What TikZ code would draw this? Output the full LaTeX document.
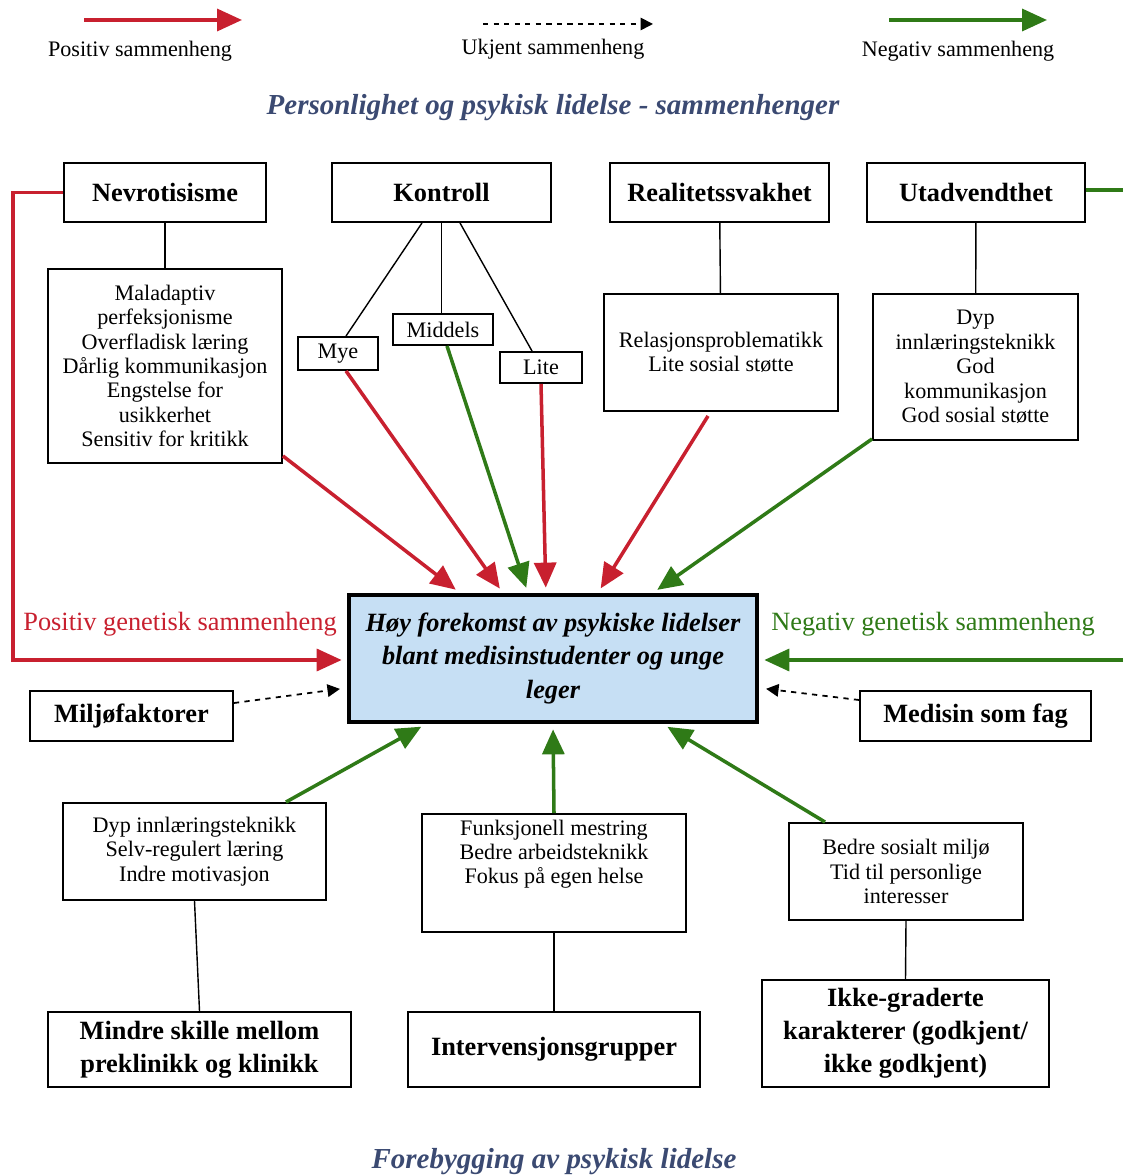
\documentclass[tikz,border=0pt]{standalone}
\usepackage{fontspec}
\setmainfont{Liberation Serif}
\usetikzlibrary{arrows.meta}

\definecolor{posred}{HTML}{C8202F}
\definecolor{neggreen}{HTML}{2F7A17}
\definecolor{mainfill}{HTML}{C6DFF4}
\definecolor{titleblue}{HTML}{3B4A72}

\begin{document}
\begin{tikzpicture}[x=0.02cm, y=-0.02cm,
    box/.style={draw, line width=1.1pt, inner sep=2pt, align=center},
    headbox/.style={box, minimum height=1.18cm, font=\fontsize{15}{18.8}\selectfont\bfseries},
    listbox/.style={box, font=\fontsize{12.6}{13.9}\selectfont},
    bigbox/.style={box, font=\fontsize{15}{18.8}\selectfont\bfseries},
    link/.style={line width=0.8pt},
    posarrow/.style={posred, line width=2pt, -{Triangle[length=0.5cm, width=0.44cm]}},
    negarrow/.style={neggreen, line width=2pt, -{Triangle[length=0.5cm, width=0.44cm]}},
    unkarrow/.style={dashed, line width=1pt, -{Triangle[length=0.25cm, width=0.25cm]}},
    smalltext/.style={font=\fontsize{12.6}{13.9}\selectfont}]
    \useasboundingbox (0,0) rectangle (1123,1175);

    % Legend
    \coordinate (posA) at (84,20);   \coordinate (posB) at (242,20);
    \coordinate (unkA) at (483,24);  \coordinate (unkB) at (653,24);
    \coordinate (negA) at (889,20);  \coordinate (negB) at (1047,20);
    \draw[posarrow] (posA) -- (posB);
    \draw[unkarrow] (unkA) -- (unkB);
    \draw[negarrow] (negA) -- (negB);
    \node[smalltext] (posleg) at (140,51) {Positiv sammenheng};
    \node[smalltext] (unkleg) at (553,49) {Ukjent sammenheng};
    \node[smalltext] (negleg) at (958,51) {Negativ sammenheng};

    % Titles
    \node[titleblue, font=\fontsize{16.5}{20}\selectfont\bfseries\itshape] (toptitle) at (553,108)
        {Personlighet og psykisk lidelse - sammenhenger};
    \node[titleblue, font=\fontsize{16.5}{20}\selectfont\bfseries\itshape] (bottitle) at (554,1162)
        {Forebygging av psykisk lidelse};

    % Personality traits
    \node[headbox, minimum width=4.04cm] (nev) at (165,192.5) {Nevrotisisme};
    \node[headbox, minimum width=4.38cm] (kon) at (441.5,192.5) {Kontroll};
    \node[headbox, minimum width=4.38cm] (real) at (719.5,192.5) {Realitetssvakhet};
    \node[headbox, minimum width=4.36cm] (utad) at (976,192.5) {Utadvendthet};

    % Trait details
    \node[listbox, minimum width=4.68cm, minimum height=3.88cm] (nevlist) at (165,366)
        {Maladaptiv\\perfeksjonisme\\Overfladisk læring\\Dårlig kommunikasjon\\Engstelse for\\usikkerhet\\Sensitiv for kritikk};
    \node[listbox, minimum width=1.6cm, minimum height=0.66cm] (mye) at (338,353.5) {Mye};
    \node[listbox, minimum width=2.0cm, minimum height=0.62cm] (middels) at (443,329.5) {Middels};
    \node[listbox, minimum width=1.64cm, minimum height=0.62cm] (lite) at (541,367.5) {Lite};
    \node[listbox, minimum width=4.68cm, minimum height=2.34cm] (rel) at (721,352.5)
        {Relasjonsproblematikk\\Lite sosial støtte};
    \node[listbox, minimum width=4.1cm, minimum height=2.92cm] (dyp) at (975.5,367)
        {Dyp\\innlæringsteknikk\\God\\kommunikasjon\\God sosial støtte};

    \draw[link] (nev) -- (nevlist);
    \draw[link] ([xshift=-0.39cm]kon.south) -- ([xshift=0.16cm]mye.north);
    \draw[link] (kon.south) -- (kon.south |- middels.north);
    \draw[link] ([xshift=0.37cm]kon.south) -- ([xshift=-0.18cm]lite.north);
    \draw[link] (real) -- (rel);
    \draw[link] (utad) -- (dyp);

    % Main box
    \node[draw, line width=2.4pt, fill=mainfill, align=center, minimum width=8.16cm, minimum height=2.54cm,
          font=\fontsize{15}{18.8}\selectfont\bfseries\itshape] (cen) at (553,658.5)
        {Høy forekomst av psykiske lidelser\\blant medisinstudenter og unge\\leger};

    % Arrows from above
    \draw[posarrow, shorten >=3pt] ([yshift=0.16cm]nevlist.south east) -- ([xshift=2.26cm]cen.north west);
    \draw[posarrow, shorten >=3pt] ([xshift=0.16cm]mye.south) -- ([xshift=3.12cm]cen.north west);
    \draw[negarrow, shorten >=3pt] ([xshift=0.08cm]middels.south) -- ([xshift=3.62cm]cen.north west);
    \draw[posarrow, shorten >=3pt] (lite.south) -- ([xshift=3.98cm]cen.north west);
    \draw[posarrow, shorten >=3pt] ([xshift=-0.26cm, yshift=-0.08cm]rel.south) -- ([xshift=5.02cm]cen.north west);
    \draw[negarrow, shorten >=3pt] ([yshift=0.04cm]dyp.south west) -- ([xshift=6.12cm]cen.north west);

    % Genetic links
    \coordinate (redcorner) at (13,192.5);
    \coordinate (redlow) at (13,660);
    \coordinate (greentop) at (1123,190);
    \coordinate (greenin) at (1123,660);
    \draw[posarrow, shorten >=3pt] (nev.west) -- (redcorner) -- (redlow) -- (cen.west |- redlow);
    \draw[neggreen, line width=2pt] (utad.east |- greentop) -- (greentop);
    \draw[negarrow, shorten >=3pt] (greenin) -- (cen.east |- greenin);
    \node[posred, font=\fontsize{15}{18.8}\selectfont] (poslab) at (180,624) {Positiv genetisk sammenheng};
    \node[neggreen, font=\fontsize{15}{18.8}\selectfont] (neglab) at (933,624) {Negativ genetisk sammenheng};

    % Unknown factors
    \node[bigbox, minimum width=4.06cm, minimum height=1.0cm] (milj) at (131.5,716) {Miljøfaktorer};
    \node[bigbox, minimum width=4.62cm, minimum height=1.0cm] (med) at (975.5,716) {Medisin som fag};
    \draw[unkarrow, shorten >=4pt] ([yshift=0.26cm]milj.east) -- ([yshift=-0.59cm]cen.west);
    \draw[unkarrow, shorten >=4pt] ([yshift=0.32cm]med.west) -- ([yshift=-0.59cm]cen.east);

    % Prevention
    \node[listbox, minimum width=5.26cm, minimum height=1.94cm] (bl) at (194.5,851.5)
        {Dyp innlæringsteknikk\\Selv-regulert læring\\Indre motivasjon};
    \node[listbox, minimum width=5.28cm, minimum height=2.36cm] (bm) at (554,873)
        {Funksjonell mestring\\Bedre arbeidsteknikk\\Fokus på egen helse\\[0.36cm]\mbox{}};
    \node[listbox, minimum width=4.68cm, minimum height=1.94cm] (br) at (906,871.5)
        {Bedre sosialt miljø\\Tid til personlige\\interesser};
    \node[bigbox, minimum width=6.06cm, minimum height=1.5cm] (skille) at (199.5,1049.5)
        {Mindre skille mellom\\preklinikk og klinikk};
    \node[bigbox, minimum width=5.84cm, minimum height=1.5cm] (interv) at (554,1049.5)
        {Intervensjonsgrupper};
    \node[bigbox, minimum width=5.74cm, minimum height=2.14cm] (ikke) at (905.5,1033.5)
        {Ikke-graderte\\karakterer (godkjent/\\ikke godkjent)};

    \draw[link] (bl.south) -- (skille.north);
    \draw[link] (bm.south) -- (interv.north);
    \draw[link] (br.south) -- (ikke.north);

    \draw[negarrow, shorten >=3pt] ([xshift=-0.82cm]bl.north east) -- ([xshift=1.58cm]cen.south west);
    \draw[negarrow, shorten >=3pt] (bm.north) -- (cen.south);
    \draw[negarrow, shorten >=3pt] ([xshift=0.74cm]br.north west) -- ([xshift=6.32cm]cen.south west);
\end{tikzpicture}
\end{document}
